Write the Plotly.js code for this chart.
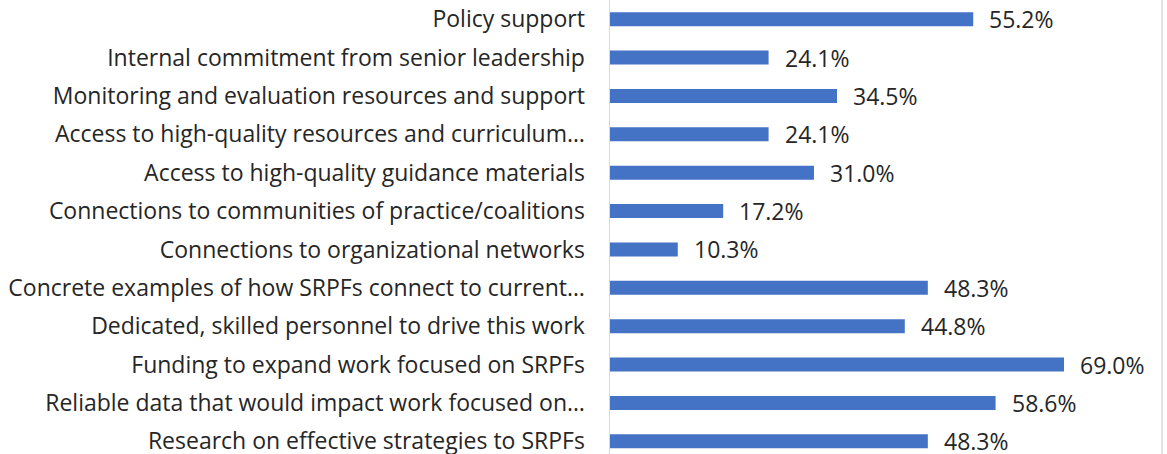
<!DOCTYPE html>
<html><head><meta charset="utf-8">
<script src="https://cdn.plot.ly/plotly-3.0.1.min.js"></script>
<style>html,body{margin:0;padding:0;background:#fff;}#chart{width:1167px;height:454px;}</style>
</head><body><div id="chart"></div>
<script>
const categories = [
  "Policy support",
  "Internal commitment from senior leadership",
  "Monitoring and evaluation resources and support",
  "Access to high-quality resources and curriculum…",
  "Access to high-quality guidance materials",
  "Connections to communities of practice/coalitions",
  "Connections to organizational networks",
  "Concrete examples of how SRPFs connect to current…",
  "Dedicated, skilled personnel to drive this work",
  "Funding to expand work focused on SRPFs",
  "Reliable data that would impact work focused on…",
  "Research on effective strategies to SRPFs"
];
const values = [55.2, 24.1, 34.5, 24.1, 31.0, 17.2, 10.3, 48.3, 44.8, 69.0, 58.6, 48.3];
const valueLabels = values.map(v => v.toFixed(1) + "%");

const FONT = "Open Sans, sans-serif";
const TXT = "#262626";

const trace = {
  type: "bar", orientation: "h",
  x: values, y: categories,
  marker: {color: "#4472C4"},
  width: 0.365,
  hoverinfo: "none"
};

const annotations = values.map((v, i) => ({
  x: v, y: categories[i], xref: "x", yref: "y",
  text: valueLabels[i], showarrow: false,
  xanchor: "left", yanchor: "middle", xshift: 14,
  font: {family: FONT, size: 23, color: TXT}
}));

const layout = {
  width: 1167, height: 454,
  margin: {l: 610, r: 0, t: 0, b: 0},
  paper_bgcolor: "#fff", plot_bgcolor: "#fff",
  showlegend: false,
  xaxis: {range: [0, 84.65], visible: false, fixedrange: true},
  yaxis: {
    type: "category",
    categoryorder: "array", categoryarray: categories,
    range: [11.331, -0.5004],
    showline: true, linecolor: "#d9d9d9", linewidth: 1.5,
    showgrid: false, zeroline: false, ticks: "",
    ticklabelstandoff: 19,
    tickfont: {family: FONT, size: 23, color: TXT},
    fixedrange: true
  },
  annotations: annotations,
  shapes: [{type: "line", xref: "paper", yref: "paper", x0: 0.991, x1: 0.991, y0: 0, y1: 1,
            line: {color: "#d9d9d9", width: 1.5}}]
};

Plotly.newPlot("chart", [trace], layout, {displayModeBar: false, staticPlot: true});
</script>
</body></html>
